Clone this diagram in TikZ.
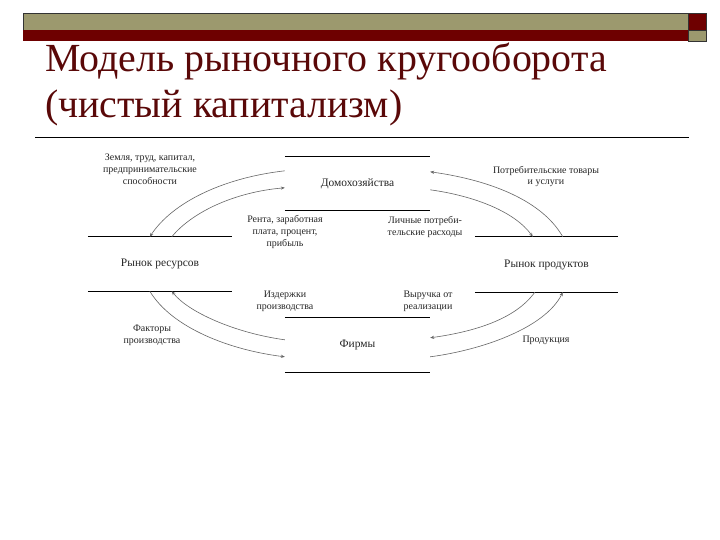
\documentclass[tikz,border=0pt]{standalone}
\usepackage{fontspec}
\setmainfont{Liberation Serif}
\usetikzlibrary{arrows.meta,calc}
\definecolor{olivebar}{RGB}{156,153,110}
\definecolor{darkred}{RGB}{110,0,0}
\definecolor{titlered}{RGB}{90,8,8}
\tikzset{
  market/.style={minimum width=144bp,minimum height=54bp,inner sep=0pt,font=\fontsize{11.5}{13}\selectfont,text=black!85},
  lbl/.style={align=center,inner sep=0pt,font=\fontsize{10}{12}\selectfont,text=black!85},
  flow/.style={draw=black!60,line width=0.6pt,-{Stealth[length=4pt,width=3.2pt]}},
  edge/.style={draw=black,line width=0.8pt}
}
\begin{document}
\begin{tikzpicture}[x=1bp,y=-1bp]
\useasboundingbox[fill=white] (0,0) rectangle (720,540);
% header
\fill[olivebar,draw=black!80,line width=0.4pt] (23,13) rectangle (688,30);
\fill[darkred] (23,30) rectangle (688,41);
\fill[darkred,draw=black!80,line width=0.4pt] (688,13) rectangle (706,30);
\fill[olivebar,draw=black!80,line width=0.4pt] (688,30) rectangle (706,41);
% title
\node[anchor=base west,inner sep=0pt,text=titlered,font=\fontsize{40}{47}\selectfont] (t1) at (45,72) {Модель рыночного кругооборота};
\node[anchor=base west,inner sep=0pt,text=titlered,font=\fontsize{40}{47}\selectfont] (t2) at (45,118) {(чистый капитализм)};
\draw[line width=0.6pt] (35,137) -- (689,137);
% boxes
\node[market,minimum width=145bp,minimum height=53bp] (hh) at (357.5,183.5) {Домохозяйства};
\node[market,minimum width=145bp,minimum height=54bp] (fm) at (357.5,345) {Фирмы};
\node[market] (rr) at (160,264) {Рынок ресурсов};
\node[market,minimum width=143bp,minimum height=55bp] (pr) at (546.5,264.5) {Рынок продуктов};
\foreach \n in {hh,fm,rr,pr}{
  \draw[edge] (\n.north west) -- (\n.north east);
  \draw[edge] (\n.south west) -- (\n.south east);
}
% anchor coordinates
\coordinate (hhL1) at ($(hh.north west)+(0,14)$);
\coordinate (hhL2) at ($(hh.north west)+(0,31)$);
\coordinate (hhR1) at ($(hh.north east)+(0,15)$);
\coordinate (hhR2) at ($(hh.north east)+(0,33)$);
\coordinate (fmL1) at ($(fm.north west)+(0,22)$);
\coordinate (fmL2) at ($(fm.north west)+(0,39)$);
\coordinate (fmR1) at ($(fm.north east)+(0,20)$);
\coordinate (fmR2) at ($(fm.north east)+(0,39)$);
\coordinate (rrT1) at ($(rr.north west)+(62,0)$);
\coordinate (rrT2) at ($(rr.north west)+(84,0)$);
\coordinate (rrB1) at ($(rr.south west)+(62,0)$);
\coordinate (rrB2) at ($(rr.south west)+(84,0)$);
\coordinate (prT1) at ($(pr.north west)+(58,0)$);
\coordinate (prT2) at ($(pr.north west)+(88,0)$);
\coordinate (prB1) at ($(pr.south west)+(60,0)$);
\coordinate (prB2) at ($(pr.south west)+(88,0)$);
% flows
\draw[flow] (hhL1) .. controls (222,178) and (172,203) .. (rrT1);
\draw[flow] (rrT2) .. controls (192,212) and (235,192) .. (hhL2);
\draw[flow] (prT2) .. controls (540,197) and (482,179) .. (hhR1);
\draw[flow] (hhR2) .. controls (475,196) and (515,212) .. (prT1);
\draw[flow] (rrB1) .. controls (172,328) and (230,350) .. (fmL2);
\draw[flow] (fmL1) .. controls (235,333) and (188,312) .. (rrB2);
\draw[flow] (prB1) .. controls (515,320) and (472,332) .. (fmR1);
\draw[flow] (fmR2) .. controls (482,350) and (545,328) .. (prB2);
% labels
\node[lbl] (land) at (150,169) {Земля, труд, капитал,\\предпринимательские\\способности};
\node[lbl] (rent) at (285,232) {Рента, заработная\\плата, процент,\\прибыль};
\node[lbl] (pers) at (425,227) {Личные потреби-\\тельские расходы};
\node[lbl] (cons) at (546,176.5) {Потребительские товары\\и услуги};
\node[lbl] (cost) at (285,301) {Издержки\\производства};
\node[lbl] (rev) at (428,301) {Выручка от\\реализации};
\node[lbl] (fact) at (152,335) {Факторы\\производства};
\node[lbl] (prod) at (546,340) {Продукция};
\end{tikzpicture}
\end{document}
